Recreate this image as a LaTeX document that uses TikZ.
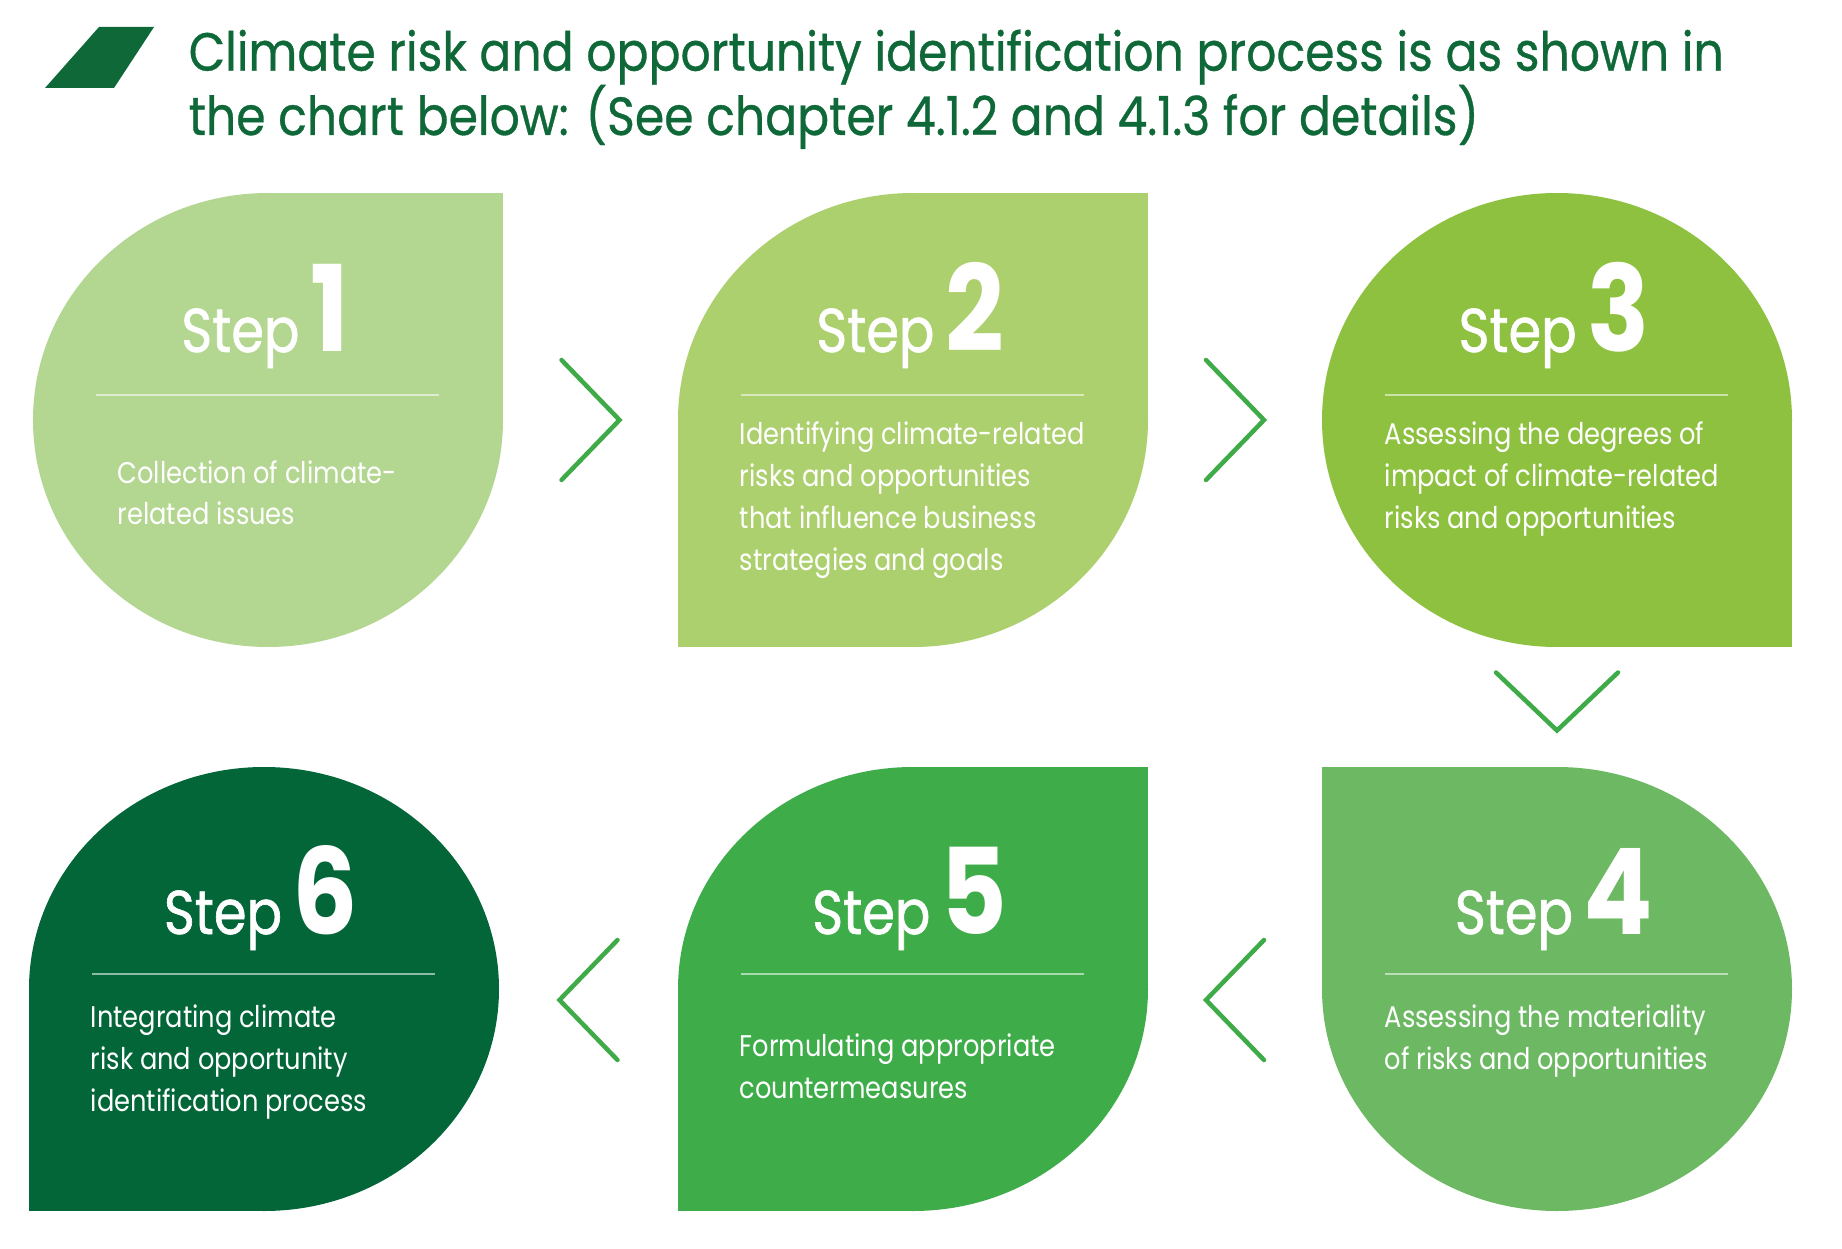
\documentclass[tikz,border=0pt]{standalone}
\usepackage{fontspec}
\setmainfont{Poppins}[FakeStretch=0.86]
\newfontfamily\stepfont{Poppins}[FakeStretch=0.85, FakeBold=1]
\newfontfamily\titlefont{Poppins}[FakeStretch=0.88, FakeBold=0.6]
\usetikzlibrary{calc}
\lineskiplimit=-100pt
\definecolor{leafA}{HTML}{B3D690}
\definecolor{leafB}{HTML}{ADD06E}
\definecolor{leafC}{HTML}{8DC13F}
\definecolor{leafD}{HTML}{6DB963}
\definecolor{leafE}{HTML}{3EAD49}
\definecolor{leafF}{HTML}{026639}
\definecolor{chevgreen}{HTML}{3EAA48}
\definecolor{titlegreen}{HTML}{0E6838}
% leaf: centre, y radius, colour, sharp corners
\newcommand{\leaf}[4]{%
  \fill[#3] (#1) ellipse [x radius=235, y radius=#2];
  \foreach \sx/\sy in {#4} \fill[#3] (#1) rectangle ++(235*\sx, #2*\sy);
}
\newcommand{\stepnum}[1]{{\rmfamily\bfseries\fontsize{34}{34}\selectfont #1}}

\begin{document}
\begin{tikzpicture}[x=0.1mm, y=-0.1mm]
\tikzstyle{body}=[text=white, align=left, inner sep=0pt, anchor=base west, font=\fontsize{8.5}{11.9}\selectfont]
\tikzstyle{head}=[text=white, inner sep=0pt, anchor=base, font=\stepfont\fontsize{17.6}{18}\selectfont]
\tikzstyle{rule}=[draw=white, draw opacity=0.55, line width=0.2mm]
\tikzstyle{chev}=[draw=chevgreen, line width=0.45mm, line cap=round]
\fill[white] (0,0) rectangle (1842,1249);
\useasboundingbox (0,0) rectangle (1842,1249);

% title (anchored on its last line)
\fill[titlegreen] (45,88) -- (114,88) -- (154,27) -- (99,27) -- cycle;
\node[anchor=base west, inner sep=0pt, align=left, text=titlegreen, font=\titlefont\fontsize{15.3}{18.3}\selectfont] (title) at (188,135)
  {Climate risk and opportunity identification process is as shown in\\the chart below: (See chapter 4.1.2 and 4.1.3 for details)};

% leaf centres
\coordinate (c1) at (268,420);
\coordinate (c2) at (913,420);
\coordinate (c3) at (1557,420);
\coordinate (c4) at (1557,989);
\coordinate (c5) at (913,989);
\coordinate (c6) at (264,989);

\leaf{c1}{227}{leafA}{1/-1}
\leaf{c2}{227}{leafB}{1/-1, -1/1}
\leaf{c3}{227}{leafC}{1/1}
\leaf{c4}{222}{leafD}{-1/-1}
\leaf{c5}{222}{leafE}{1/-1, -1/1}
\leaf{c6}{222}{leafF}{-1/1}

% dividers
\foreach \c in {c1,c2,c3} \draw[rule] (\c) ++(-172,-25) -- ++(343,0);
\foreach \c in {c4,c5,c6} \draw[rule] (\c) ++(-172,-15) -- ++(343,0);

% headings
\node[head] (h1) at ($(c1)+(-3,-68)$) {Step\hspace{3pt}\stepnum{1}};
\node[head] (h2) at ($(c2)+(-3,-68)$) {Step\hspace{3pt}\stepnum{2}};
\node[head] (h3) at ($(c3)+(-3,-68)$) {Step\hspace{3pt}\stepnum{3}};
\node[head] (h4) at ($(c4)+(-3,-55)$) {Step\hspace{3pt}\stepnum{4}};
\node[head] (h5) at ($(c5)+(-3,-55)$) {Step\hspace{3pt}\stepnum{5}};
\node[head] (h6) at ($(c6)+(-3,-55)$) {Step\hspace{3pt}\stepnum{6}};

% texts (anchored on the last line)
\node[body] (b1) at ($(c1)+(-151,105)$) {Collection of climate-\\related issues};
\node[body] (b2) at ($(c2)+(-174,150)$) {Identifying climate-related\\risks and opportunities\\that influence business\\strategies and goals};
\node[body] (b3) at ($(c3)+(-173,108)$) {Assessing the degrees of\\impact of climate-related\\risks and opportunities};
\node[body] (b4) at ($(c4)+(-173,80)$) {Assessing the materiality\\of risks and opportunities};
\node[body] (b5) at ($(c5)+(-174,109)$) {Formulating appropriate\\countermeasures};
\node[body] (b6) at ($(c6)+(-174,122)$) {Integrating climate\\risk and opportunity\\identification process};

% chevrons
\coordinate (a12) at ($(c1)!0.5!(c2)$);
\coordinate (a23) at ($(c2)!0.5!(c3)$);
\coordinate (a34) at ($(c3)!0.5!(c4)+(0,-3)$);
\coordinate (a45) at ($(c4)!0.5!(c5)+(0,11)$);
\coordinate (a56) at ($(c5)!0.5!(c6)+(0,11)$);
\draw[chev] (a12) ++(-29,-60) -- ++(58,60) -- ++(-58,60);
\draw[chev] (a23) ++(-29,-60) -- ++(58,60) -- ++(-58,60);
\draw[chev] (a34) ++(-61,-29) -- ++(61,58) -- ++(61,-58);
\draw[chev] (a45) ++(29,-60) -- ++(-58,60) -- ++(58,60);
\draw[chev] (a56) ++(29,-60) -- ++(-58,60) -- ++(58,60);
\end{tikzpicture}
\end{document}
